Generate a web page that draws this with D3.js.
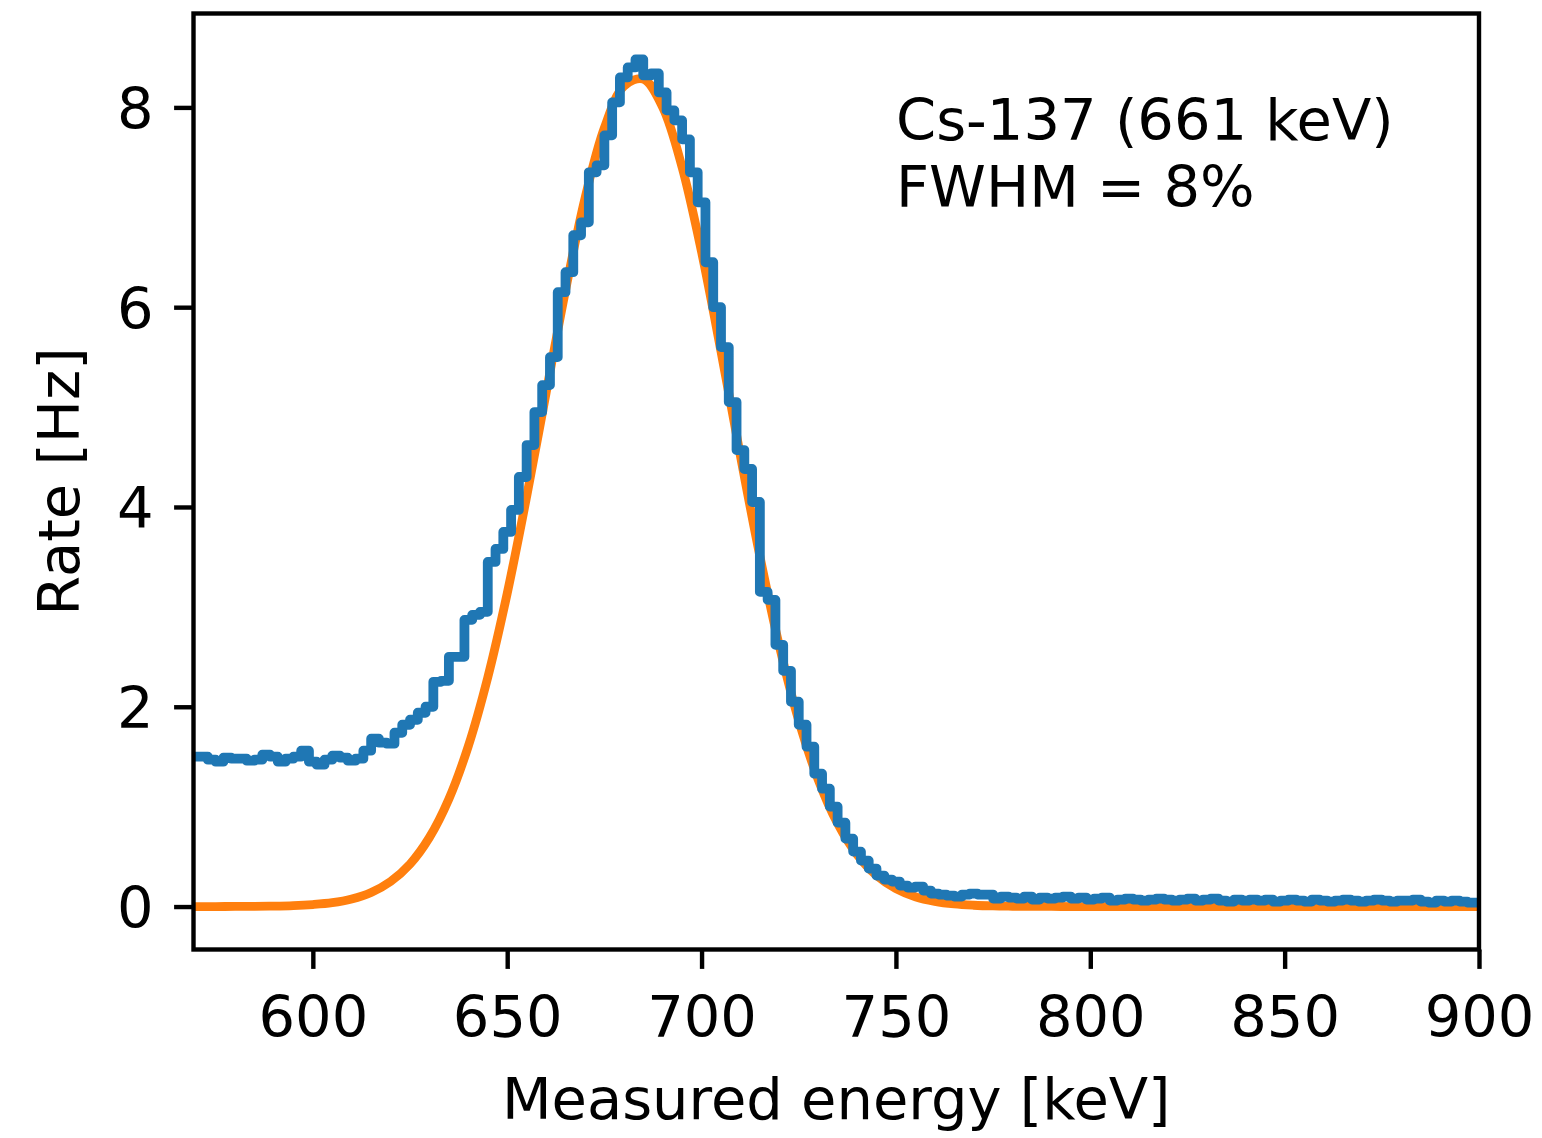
<!DOCTYPE html>
<html>
<head>
<meta charset="utf-8">
<script src="https://cdn.jsdelivr.net/npm/d3@7"></script>
<style>
    body { margin: 0; background: #ffffff; }
    svg { display: block; }
    text { font-family: "DejaVu Sans", sans-serif; fill: #000000; }
</style>
</head>
<body>
<div id="chart"></div>
<script>

//// DATA

// Histogram bins (2 keV wide, left edges) and measured rate in Hz
var binStart = 569;
var binWidth = 2;
var rateHz = [
    1.50, 1.50, 1.47, 1.45, 1.49, 1.48, 1.48, 1.46, 1.47, 1.52,
    1.50, 1.45, 1.48, 1.50, 1.56, 1.45, 1.42, 1.47, 1.51, 1.49,
    1.46, 1.48, 1.56, 1.68, 1.64, 1.63, 1.74, 1.82, 1.87, 1.94,
    2.00, 2.25, 2.26, 2.50, 2.50, 2.87, 2.92, 2.95, 3.45, 3.58,
    3.75, 3.97, 4.30, 4.62, 4.95, 5.22, 5.50, 6.15, 6.35, 6.72,
    6.85, 7.35, 7.42, 7.72, 8.05, 8.30, 8.40, 8.48, 8.32, 8.34,
    8.15, 7.97, 7.87, 7.68, 7.35, 7.05, 6.45, 6.00, 5.60, 5.05,
    4.57, 4.38, 4.05, 3.15, 3.07, 2.62, 2.36, 2.05, 1.82, 1.60,
    1.33, 1.18, 1.00, 0.84, 0.68, 0.55, 0.46, 0.38, 0.31, 0.27,
    0.25, 0.21, 0.19, 0.20, 0.16, 0.13, 0.12, 0.11, 0.10, 0.12,
    0.13, 0.12, 0.12, 0.08, 0.10, 0.09, 0.08, 0.10, 0.07, 0.09,
    0.08, 0.09, 0.10, 0.08, 0.09, 0.07, 0.08, 0.09, 0.06, 0.07,
    0.08, 0.07, 0.06, 0.07, 0.08, 0.07, 0.06, 0.07, 0.08, 0.06,
    0.07, 0.08, 0.06, 0.05, 0.07, 0.06, 0.07, 0.06, 0.07, 0.05,
    0.06, 0.07, 0.06, 0.05, 0.07, 0.06, 0.05, 0.06, 0.07, 0.06,
    0.05, 0.06, 0.07, 0.06, 0.05, 0.06, 0.06, 0.07, 0.05, 0.04,
    0.06, 0.05, 0.06, 0.05, 0.04
];

// Gaussian fit, read every 5 keV
var fitEnergy = [
    565, 570, 575, 580, 585, 590, 595, 600, 605, 610,
    615, 620, 625, 630, 635, 640, 645, 650, 655, 660,
    665, 670, 675, 680, 685, 690, 695, 700, 705, 710,
    715, 720, 725, 730, 735, 740, 745, 750, 755, 760,
    765, 770, 775, 780, 785, 790, 795, 800, 850, 900
];
var fitRate = [
    0.000, 0.000, 0.000, 0.001, 0.002, 0.004, 0.009, 0.020, 0.039, 0.076,
    0.141, 0.251, 0.425, 0.692, 1.077, 1.606, 2.293, 3.134, 4.102, 5.140,
    6.167, 7.088, 7.796, 8.212, 8.284, 8.001, 7.400, 6.553, 5.557, 4.512,
    3.508, 2.611, 1.862, 1.271, 0.831, 0.520, 0.311, 0.179, 0.098, 0.052,
    0.026, 0.013, 0.006, 0.003, 0.001, 0.001, 0.000, 0.000, 0.000, 0.000
];

// Axes
var xDomain = [569.3, 900];
var yDomain = [-0.43, 8.94];
var xTicks = [600, 650, 700, 750, 800, 850, 900];
var yTicks = [0, 2, 4, 6, 8];
var annotation = ["Cs-137 (661 keV)", "FWHM = 8%"];


//// MAIN

var width = 1542, height = 1138;
var box = {left: 193.5, right: 1479, top: 13.5, bottom: 949.5};
var fontSize = 57.5;

var svg = d3.select("#chart").append("svg")
    .attr("width", width)
    .attr("height", height);

var x = d3.scaleLinear().domain(xDomain).range([box.left, box.right]);
var y = d3.scaleLinear().domain(yDomain).range([box.bottom, box.top]);

svg.append("clipPath").attr("id", "plotclip")
    .append("rect")
    .attr("x", box.left).attr("y", box.top)
    .attr("width", box.right - box.left)
    .attr("height", box.bottom - box.top);

var plot = svg.append("g").attr("clip-path", "url(#plotclip)");

// Fit curve (orange), under the histogram
var fitPoints = fitEnergy.map(function(e, i){ return [e, fitRate[i]]; });
plot.append("path")
    .datum(fitPoints)
    .attr("fill", "none")
    .attr("stroke", "#ff7f0e")
    .attr("stroke-width", 8.8)
    .attr("d", d3.line()
        .x(function(d){ return x(d[0]); })
        .y(function(d){ return y(d[1]); })
        .curve(d3.curveCatmullRom));

// Histogram (blue steps)
var histPoints = rateHz.map(function(r, i){ return [binStart + i * binWidth, r]; });
histPoints.push([xDomain[1] + 1, rateHz[rateHz.length - 1]]);
plot.append("path")
    .datum(histPoints)
    .attr("fill", "none")
    .attr("stroke", "#1f77b4")
    .attr("stroke-width", 9.8)
    .attr("stroke-linejoin", "round")
    .attr("d", d3.line()
        .x(function(d){ return x(d[0]); })
        .y(function(d){ return y(d[1]); })
        .curve(d3.curveStepAfter));

// Axes
var xAxis = svg.append("g")
    .attr("transform", "translate(0," + box.bottom + ")")
    .call(d3.axisBottom(x).tickValues(xTicks).tickSize(19.4).tickSizeOuter(0));
xAxis.selectAll("text")
    .attr("y", 87.2).attr("dy", null)
    .style("font-size", fontSize + "px");

var yAxis = svg.append("g")
    .attr("transform", "translate(" + box.left + ",0)")
    .call(d3.axisLeft(y).tickValues(yTicks).tickSize(19.4).tickSizeOuter(0));
yAxis.selectAll("text")
    .attr("x", -40).attr("dy", "0.365em")
    .style("font-size", fontSize + "px");

svg.selectAll(".domain").remove();
svg.selectAll(".tick line").attr("stroke", "#000").attr("stroke-width", 4.4);

// Frame
svg.append("rect")
    .attr("x", box.left).attr("y", box.top)
    .attr("width", box.right - box.left)
    .attr("height", box.bottom - box.top)
    .attr("fill", "none")
    .attr("stroke", "#000")
    .attr("stroke-width", 4.4)
    .attr("stroke-linejoin", "miter");

// Axis labels
svg.append("text")
    .attr("x", (box.left + box.right) / 2)
    .attr("y", 1118.5)
    .attr("text-anchor", "middle")
    .style("font-size", fontSize + "px")
    .text("Measured energy [keV]");

svg.append("text")
    .attr("transform", "translate(79," + (box.top + box.bottom) / 2 + ") rotate(-90)")
    .attr("text-anchor", "middle")
    .style("font-size", fontSize + "px")
    .text("Rate [Hz]");

// Annotation
svg.selectAll(".note")
    .data(annotation)
    .enter()
    .append("text")
    .attr("class", "note")
    .attr("x", 896)
    .attr("y", function(d, i){ return 140 + i * 66.5; })
    .style("font-size", fontSize + "px")
    .text(function(d){ return d; });

</script>
</body>
</html>
